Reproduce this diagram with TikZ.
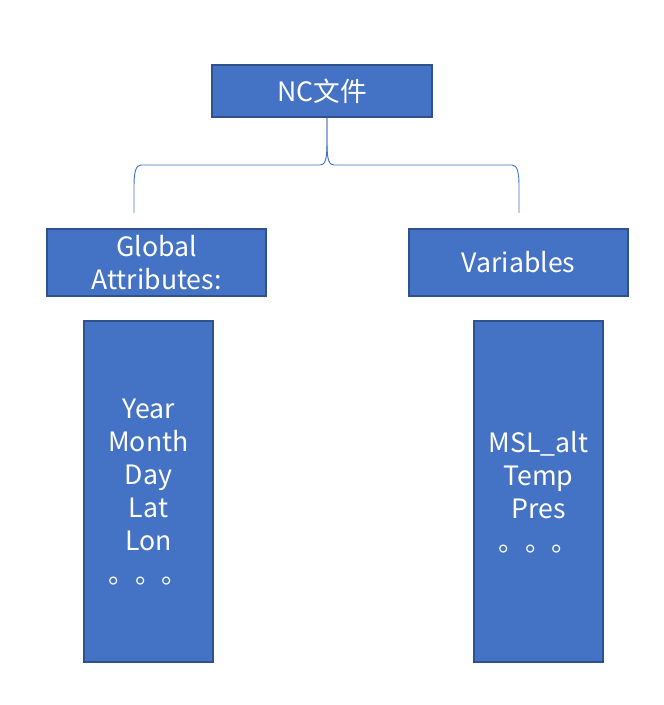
\documentclass[tikz,border=0pt]{standalone}
\usepackage{fontspec}
\setmainfont{Noto Sans CJK SC}
\usepackage{tikz}
\usetikzlibrary{positioning}
\definecolor{boxblue}{RGB}{68, 114, 196}
\definecolor{borderblue}{RGB}{47, 82, 143}

\begin{document}
\begin{tikzpicture}[x=0.75pt, y=-0.75pt,
  every node/.style={font=\fontsize{20}{24.75}\selectfont, text=white},
  blockbox/.style={rectangle, draw=borderblue, fill=boxblue, line width=1.5pt, align=center}]
\useasboundingbox (0,0) rectangle (663,705);

% File node
\node[blockbox, minimum width=165pt, minimum height=39pt] at (322,91) (nc) {NC文件};

% Two groups
\node[blockbox, minimum width=164.25pt, minimum height=50.25pt] at (156.5,262.5) (glob) {Global\\Attributes:};
\node[blockbox, minimum width=164.25pt, minimum height=50.25pt] at (518.5,262.5) (vars) {Variables};

% Contents
\node[blockbox, text depth=0pt, minimum width=96.75pt, minimum height=255.75pt] at (148.5,491.5) (globlist) {Year\\Month\\Day\\Lat\\Lon\\。。。};
\node[blockbox, text depth=0pt, minimum width=96.75pt, minimum height=255.75pt] at (538.5,491.5) (varlist) {MSL\_alt\\Temp\\Pres\\。。。};

% Brace ends
\coordinate (gtop) at (134,213);
\coordinate (vtop) at (519,213);

% Brace
\draw[boxblue, line width=0.7pt] ([xshift=3.75pt]nc.south) -- ++(0,25) .. controls (327,160) and (325,165) .. (320,165)
  -- (141,165) .. controls (136,165) and (134,172) .. (134,185) -- (gtop);
\draw[boxblue, line width=0.7pt] ([xshift=3.75pt]nc.south) -- ++(0,25) .. controls (327,160) and (329,165) .. (334,165)
  -- (512,165) .. controls (517,165) and (519,172) .. (519,185) -- (vtop);
\end{tikzpicture}
\end{document}
